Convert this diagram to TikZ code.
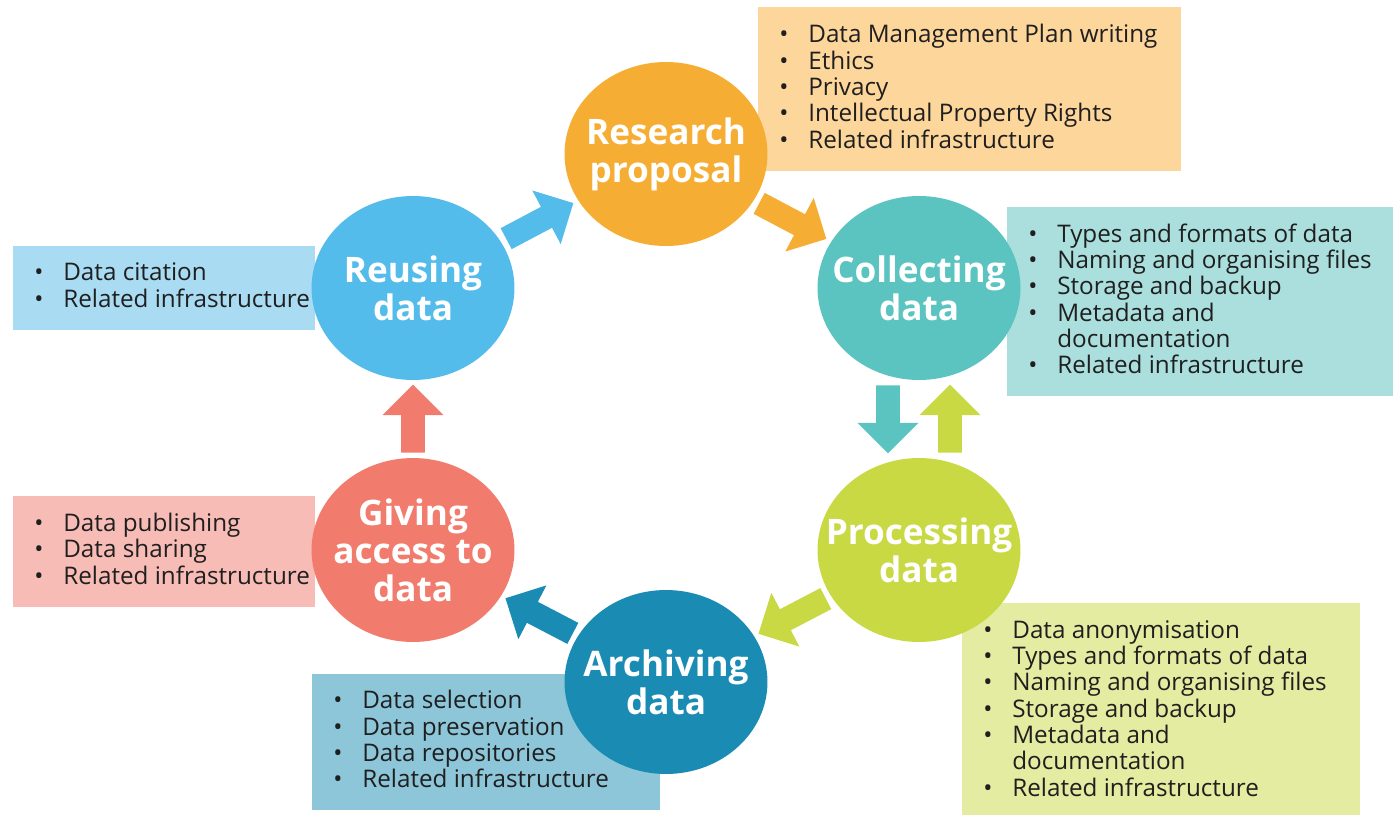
\documentclass[tikz,border=0pt]{standalone}
\usepackage{fontspec}
\setmainfont{Open Sans}
\usetikzlibrary{shapes.geometric,shapes.arrows}

\definecolor{propOrange}{HTML}{F6AD33}
\definecolor{propLight}{HTML}{FDD69B}
\definecolor{collTeal}{HTML}{5BC4C0}
\definecolor{collLight}{HTML}{AADFDD}
\definecolor{procGreen}{HTML}{C8D944}
\definecolor{procLight}{HTML}{E3ECA0}
\definecolor{archBlue}{HTML}{1A8BB3}
\definecolor{archLight}{HTML}{8DC6D9}
\definecolor{giveRed}{HTML}{F17C6E}
\definecolor{giveLight}{HTML}{F8BCB7}
\definecolor{reuseBlue}{HTML}{54BCEA}
\definecolor{reuseLight}{HTML}{A9DCF3}

\tikzset{
  stage/.style={ellipse, fill=#1, text=white, minimum width=4.06cm, minimum height=3.68cm,
    inner sep=-1.3cm, align=center, font=\fontsize{20}{21.6}\selectfont\bfseries},
  listbox/.style={fill=#1, anchor=north west, inner sep=0pt},
  listtext/.style={anchor=west, align=left, inner xsep=0.42cm, inner ysep=0pt,
    font=\fontsize{13.8}{15}\selectfont, text=black!88},
  flow/.style={single arrow, fill=#1, draw=none, anchor=tail, pos=0.367, sloped, allow upside down,
    minimum width=0pt, minimum height=1.52cm, inner sep=0pt, inner ysep=0.23cm,
    single arrow head extend=0.37cm, single arrow tip angle=90}
}
\newcommand\bul{\makebox[0.58cm][l]{\textbullet}}
\newcommand\cont{\hspace*{0.58cm}}

\begin{document}
\begin{tikzpicture}[x=0.02cm, y=-0.02cm]
  %%%%% START %%%%%
  \useasboundingbox (0,0) rectangle (1393,815);

  % lists behind the stages
  \node[listbox=propLight, minimum width=8.46cm, minimum height=3.28cm] (propbox) at (758,7) {};
  \node[listtext] (proplist) at ([yshift=0.06cm]propbox.west)
    {\bul Data Management Plan writing\\ \bul Ethics\\ \bul Privacy\\
     \bul Intellectual Property Rights\\ \bul Related infrastructure};

  \node[listbox=collLight, minimum width=7.72cm, minimum height=3.78cm] (collbox) at (1007,207) {};
  \node[listtext] (colllist) at ([yshift=0.06cm]collbox.west)
    {\bul Types and formats of data\\ \bul Naming and organising files\\ \bul Storage and backup\\
     \bul Metadata and\\ \cont documentation\\ \bul Related infrastructure};

  \node[listbox=procLight, minimum width=7.96cm, minimum height=4.24cm] (procbox) at (962,603) {};
  \node[listtext] (proclist) at ([yshift=0.02cm]procbox.west)
    {\bul Data anonymisation\\ \bul Types and formats of data\\ \bul Naming and organising files\\
     \bul Storage and backup\\ \bul Metadata and\\ \cont documentation\\ \bul Related infrastructure};

  \node[listbox=archLight, minimum width=6.96cm, minimum height=2.72cm] (archbox) at (312,674) {};
  \node[listtext] (archlist) at ([yshift=0.06cm]archbox.west)
    {\bul Data selection\\ \bul Data preservation\\ \bul Data repositories\\ \bul Related infrastructure};

  \node[listbox=giveLight, minimum width=6.04cm, minimum height=2.22cm] (givebox) at (13,496) {};
  \node[listtext] (givelist) at ([yshift=0.06cm]givebox.west)
    {\bul Data publishing\\ \bul Data sharing\\ \bul Related infrastructure};

  \node[listbox=reuseLight, minimum width=6.04cm, minimum height=1.68cm] (reusebox) at (13,246) {};
  \node[listtext] (reuselist) at ([yshift=0.06cm]reusebox.west)
    {\bul Data citation\\ \bul Related infrastructure};

  % stages
  \node[stage=propOrange] (research) at (666,154) {Research\\proposal};
  \node[stage=collTeal] (collect) at (919,288) {Collecting\\data};
  \node[stage=procGreen] (process) at (919,550) {Processing\\data};
  \node[stage=archBlue] (archive) at (666,682) {Archiving\\data};
  \node[stage=giveRed] (giving) at (413,550) {Giving\\access to\\data};
  \node[stage=reuseBlue] (reuse) at (413,288) {Reusing\\data};

  % cycle arrows
  \path (reuse.center) -- node[flow=reuseBlue] (a1) {} (research.center);
  \path (research.center) -- node[flow=propOrange] (a2) {} (collect.center);
  \path ([xshift=-0.62cm]collect.center) -- node[flow=collTeal, minimum height=1.36cm, pos=0.37] (a3) {} ([xshift=-0.62cm]process.center);
  \path ([xshift=0.62cm]process.center) -- node[flow=procGreen, minimum height=1.36cm, pos=0.37] (a4) {} ([xshift=0.62cm]collect.center);
  \path (process.center) -- node[flow=procGreen] (a5) {} (archive.center);
  \path (archive.center) -- node[flow=archBlue] (a6) {} (giving.center);
  \path (giving.center) -- node[flow=giveRed, minimum height=1.36cm, pos=0.37] (a7) {} (reuse.center);
  %%%%% END %%%%%
\end{tikzpicture}
\end{document}
